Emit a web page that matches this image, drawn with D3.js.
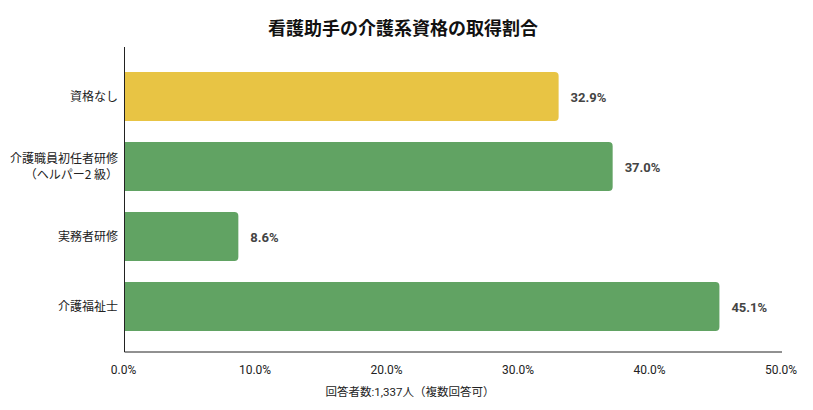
<!DOCTYPE html>
<html>
<head>
<meta charset="utf-8">
<script src="https://cdn.jsdelivr.net/npm/d3@7"></script>
<style>
  body { margin: 0; background: #fff; }
  svg { display: block; font-family: Roboto, 'Noto Sans CJK JP', sans-serif; }
</style>
</head>
<body>
<div id="chart"></div>
<script>
const categories = ['資格なし', '介護職員初任者研修\n（ヘルパー2 級）', '実務者研修', '介護福祉士'];
const values = [32.9, 37.0, 8.6, 45.1];
const barColors = ['#e8c444', '#61a363', '#61a363', '#61a363'];
const xTicks = [0, 10, 20, 30, 40, 50];

const WIDTH = 813;
const HEIGHT = 410;
const LEFT = 124.5;
const AXIS_RIGHT = 782;
const TOP = 47;
const BOTTOM = 352;

const svg = d3.select('#chart').append('svg').attr('width', WIDTH).attr('height', HEIGHT);

const x = d3.scaleLinear().domain([0, 50]).range([125, 784]);
const y = d3.scaleBand().domain(categories).range([61.5, 341.5]).paddingInner(0.3).paddingOuter(0.15);

svg.append('text')
  .attr('x', 403)
  .attr('y', 35)
  .attr('text-anchor', 'middle')
  .attr('font-size', '18px')
  .attr('font-weight', 'bold')
  .attr('font-family', "'Noto Sans CJK JP', sans-serif")
  .attr('fill', '#111')
  .text('看護助手の介護系資格の取得割合');

// bars with rounded right end
svg.selectAll('path.bar')
  .data(categories)
  .join('path')
  .attr('class', 'bar')
  .attr('fill', (d, i) => barColors[i])
  .attr('d', (d, i) => {
    const x0 = LEFT, x1 = x(values[i]);
    const y0 = y(d), h = y.bandwidth(), r = 4;
    return `M${x0},${y0}H${x1 - r}Q${x1},${y0} ${x1},${y0 + r}V${y0 + h - r}Q${x1},${y0 + h} ${x1 - r},${y0 + h}H${x0}Z`;
  });

svg.selectAll('text.value')
  .data(categories)
  .join('text')
  .attr('class', 'value')
  .attr('x', (d, i) => x(values[i]) + 12)
  .attr('y', (d) => y(d) + y.bandwidth() / 2 + 5)
  .attr('font-size', '13px')
  .attr('font-weight', 'bold')
  .attr('fill', '#444')
  .text((d, i) => values[i].toFixed(1) + '%');

// category labels
categories.forEach((cat) => {
  const lines = cat.split('\n');
  const cy = y(cat) + y.bandwidth() / 2;
  const t = svg.append('text')
    .attr('text-anchor', 'end')
    .attr('font-size', '12px')
    .attr('font-family', "'Noto Sans CJK JP', sans-serif")
    .attr('fill', '#222');
  lines.forEach((line, j) => {
    t.append('tspan')
      .attr('x', 118)
      .attr('y', cy + 4 + (j - (lines.length - 1) / 2) * 16)
      .text(line);
  });
});

// axes
svg.append('line')
  .attr('x1', LEFT).attr('x2', LEFT).attr('y1', TOP).attr('y2', BOTTOM)
  .attr('stroke', '#222').attr('stroke-width', 1);
svg.append('line')
  .attr('x1', LEFT).attr('x2', AXIS_RIGHT).attr('y1', BOTTOM).attr('y2', BOTTOM)
  .attr('stroke', '#222').attr('stroke-width', 1);

const tickX = d3.scaleLinear().domain([0, 50]).range([LEFT, AXIS_RIGHT]);
svg.selectAll('text.tick')
  .data(xTicks)
  .join('text')
  .attr('class', 'tick')
  .attr('x', (d) => tickX(d) - 1)
  .attr('y', 374)
  .attr('text-anchor', 'middle')
  .attr('font-size', '12px')
  .attr('fill', '#222')
  .text((d) => d.toFixed(1) + '%');

svg.append('text')
  .attr('x', 410)
  .attr('y', 396)
  .attr('text-anchor', 'middle')
  .attr('font-size', '11.5px')
  .attr('fill', '#222')
  .text('回答者数:1,337人（複数回答可）');
</script>
</body>
</html>
